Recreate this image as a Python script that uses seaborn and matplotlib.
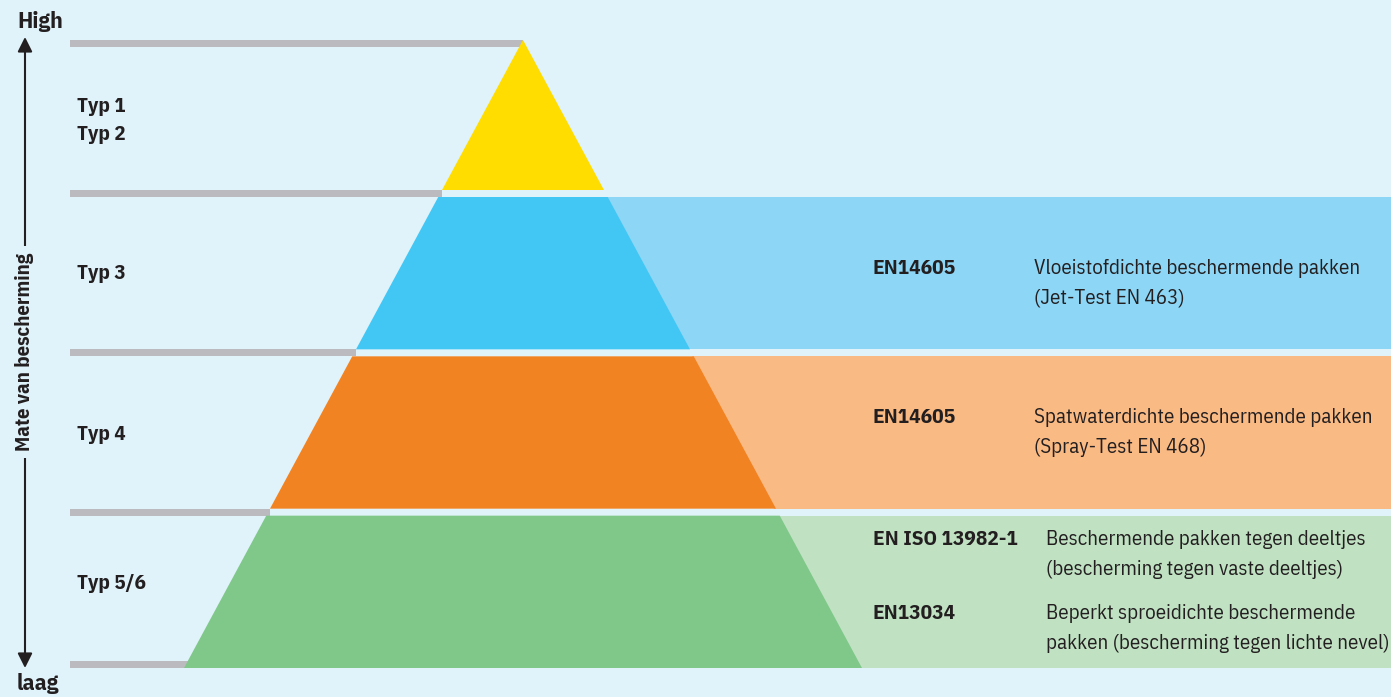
import numpy as np
import matplotlib.pyplot as plt
import seaborn as sns
from matplotlib import font_manager
from matplotlib.font_manager import FontProperties
from matplotlib.textpath import TextPath
from matplotlib.patches import Polygon, Rectangle

# data
tiers = ["Typ 1\nTyp 2", "Typ 3", "Typ 4", "Typ 5/6"]
standards = [[], ["EN14605"], ["EN14605"], ["EN ISO 13982-1", "EN13034"]]
descriptions = [
    [],
    [["Vloeistofdichte beschermende pakken", "(Jet-Test EN 463)"]],
    [["Spatwaterdichte beschermende pakken", "(Spray-Test EN 468)"]],
    [["Beschermende pakken tegen deeltjes", "(bescherming tegen vaste deeltjes)"],
     ["Beperkt sproeidichte beschermende", "pakken (bescherming tegen lichte nevel)"]],
]
axis_title = "Mate van bescherming"
axis_top = "High"
axis_bottom = "laag"

dark_colors = ["#FFDD00", "#42C7F4", "#F28322", "#80C88A"]
light_colors = [None, "#8DD6F6", "#FABA84", "#C0E2C3"]
bg = "#E0F2FA"
grey = "#BBBBBF"
ink = "#231F20"

sns.set_theme(style="white")
plt.rcParams["font.family"] = ["Liberation Sans", "DejaVu Sans"]


def glyph_box(s, prop):
    ext = TextPath((0, 0), s, size=10, prop=prop).get_extents()
    return ext.width, ext.height


# pick the condensed face whose proportions come closest to the reference
# (width of one description line / cap height is about 349 / 16)
skip = ("italic", "oblique", "light", "thin", "medium", "semibold", "extrabold", "black", "heavy")
faces = {}
for f in font_manager.fontManager.ttflist:
    fn = f.fname.lower().rsplit("/", 1)[-1]
    if not ("condensed" in fn or "narrow" in fn) or any(s in fn for s in skip):
        continue
    key = fn.rsplit(".", 1)[0].replace("regular", "").replace("bold", "").strip("-_ ")
    faces.setdefault(key, {})["bold" if "bold" in fn else "reg"] = f.fname

reg_file = bold_file = None
best = None
for key, pair in faces.items():
    if "reg" not in pair or "bold" not in pair:
        continue
    try:
        p = FontProperties(fname=pair["reg"])
        w, _ = glyph_box("Vloeistofdichte beschermende pakken", p)
        _, h = glyph_box("H", p)
    except Exception:
        continue
    score = abs(w / h - 349 / 16)
    if best is None or score < best:
        best = score
        reg_file, bold_file = pair["reg"], pair["bold"]


def fp(bold=False, size=16):
    path = bold_file if bold else reg_file
    if path:
        return FontProperties(fname=path, size=size)
    return FontProperties(family="Liberation Sans", weight="bold" if bold else "normal", size=size)


def fit_size(s, target, bold=False):
    # font size (pt at 100 dpi) that gives the string the reference width in pixels
    w, _ = glyph_box(s, fp(bold))
    return 10 * target / w * 0.72


# layout (pixels)
W, H = 1391, 697
apex_x, apex_y, base_y = 523, 40, 668
slope = 339 / (base_y - apex_y)
gap = 7
bottoms = np.linspace(190, base_y, len(tiers))
tops = np.r_[apex_y, bottoms[:-1] + gap]
left_shift = [5, 0, 2, -8]
right_shift = [0, 10, 0, 0]


def x_left(y):
    return apex_x - slope * (y - apex_y)


def x_right(y):
    return apex_x + slope * (y - apex_y)


desc_fs = min(fit_size("Vloeistofdichte beschermende pakken", 349),
              fit_size("Spatwaterdichte beschermende pakken", 349),
              fit_size("pakken (bescherming tegen lichte nevel)", 340))
std_fs = fit_size("EN ISO 13982-1", 143, True)
typ_fs = fit_size("Typ 5/6", 68, True)
title_fs = fit_size(axis_title, 198, True)
end_fs = fit_size(axis_top, 43, True)

fig = plt.figure(figsize=(W / 100, H / 100), dpi=100, facecolor=bg)
ax = fig.add_axes([0, 0, 1, 1])
ax.set_xlim(0, W)
ax.set_ylim(H, 0)
ax.set_facecolor(bg)
ax.axis("off")

# grey guide lines
line_tops = np.r_[apex_y, bottoms[:-1], base_y - gap]
for yt in line_tops:
    ax.add_patch(Rectangle((70, yt), x_left(yt) - 70, gap, color=grey, lw=0, zorder=1))

for i, (yt, yb) in enumerate(zip(tops, bottoms)):
    if light_colors[i]:
        band = [(x_right(yt) - 2, yt), (W, yt), (W, yb), (x_right(yb) - 2, yb)]
        ax.add_patch(Polygon(band, closed=True, color=light_colors[i], lw=0, zorder=1))
    pts = [(x_left(yt), yt), (x_right(yt), yt), (x_right(yb), yb), (x_left(yb), yb)]
    ax.add_patch(Polygon(pts, closed=True, color=dark_colors[i], lw=0, zorder=2))

    yc = (yt + yb) / 2
    ax.text(77, yc + left_shift[i], tiers[i], fontproperties=fp(True, typ_fs), color=ink,
            va="center", ha="left", linespacing=1.6)

    # standards and descriptions, block centred on tier
    rows = []
    y = 0
    for std, desc in zip(standards[i], descriptions[i]):
        for k, d in enumerate(desc):
            rows.append((y, std if k == 0 else "", d))
            y += 30
        y += 14
    if not rows:
        continue
    y0 = yc + right_shift[i] - rows[-1][0] / 2
    desc_x = 1046 if len(standards[i]) > 1 else 1034
    for dy, std, d in rows:
        if std:
            ax.text(873, y0 + dy, std, fontproperties=fp(True, std_fs), color=ink,
                    va="center", ha="left")
        ax.text(desc_x, y0 + dy, d, fontproperties=fp(False, desc_fs), color=ink,
                va="center", ha="left")

# vertical axis arrow
ax.annotate("", xy=(25, 37), xytext=(25, 668),
            arrowprops=dict(arrowstyle="<|-|>", lw=1.5, color=ink, mutation_scale=22,
                            shrinkA=0, shrinkB=0), zorder=3)
ax.text(25, 352, axis_title, rotation=90, fontproperties=fp(True, title_fs), color=ink,
        ha="center", va="center", zorder=4,
        bbox=dict(facecolor=bg, edgecolor="none", pad=5))
ax.text(17, 22, axis_top, fontproperties=fp(True, end_fs), color=ink, ha="left", va="center")
ax.text(17, 684, axis_bottom, fontproperties=fp(True, end_fs), color=ink, ha="left", va="center")

fig.savefig("out.png", dpi=100, facecolor=bg)
